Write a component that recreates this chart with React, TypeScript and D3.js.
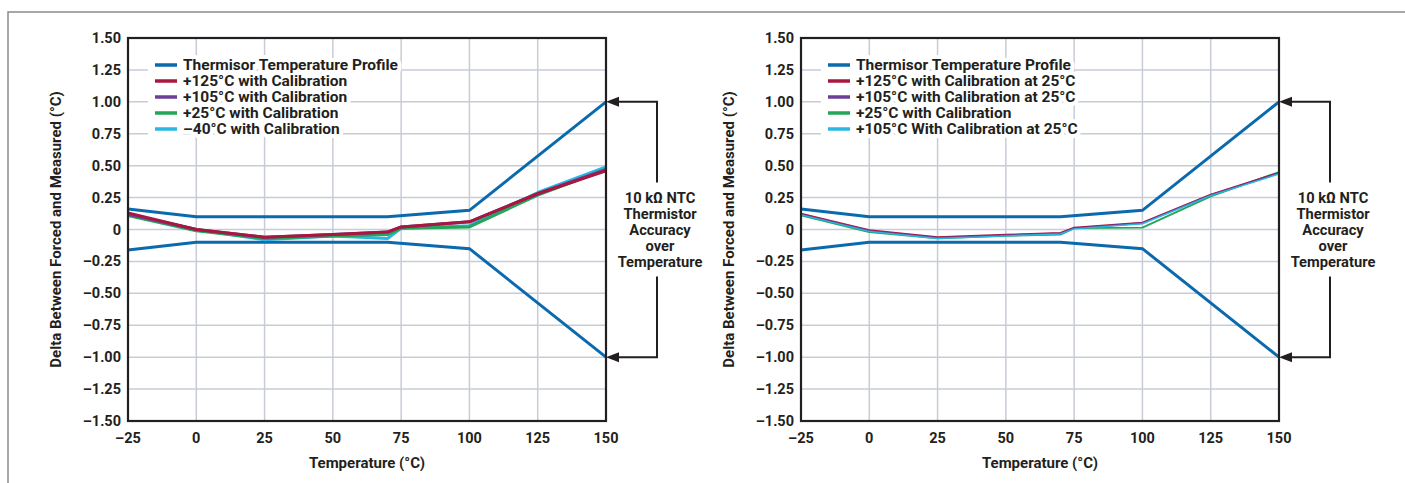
import React from 'react';
import * as d3 from 'd3';

// temperatures where the calibration curves were sampled
const temps = [-25, 0, 25, 50, 70, 75, 100, 125, 150];
// thermistor accuracy envelope
const profileTemps = [-25, 0, 70, 100, 150];
const profileUpper = [0.16, 0.10, 0.10, 0.15, 1.00];
const profileLower = [-0.16, -0.10, -0.10, -0.15, -1.00];

// left chart
const leftCal125 = [0.13, 0.00, -0.06, -0.04, -0.02, 0.02, 0.06, 0.28, 0.46];
const leftCal105 = [0.12, 0.00, -0.06, -0.04, -0.02, 0.02, 0.06, 0.28, 0.47];
const leftCal25 = [0.11, -0.01, -0.07, -0.05, -0.04, 0.01, 0.02, 0.27, 0.47];
const leftCalM40 = [0.12, 0.00, -0.08, -0.05, -0.07, 0.01, 0.03, 0.29, 0.49];

// right chart
const rightCal125 = [0.125, -0.005, -0.06, -0.04, -0.025, 0.015, 0.055, 0.275, 0.445];
const rightCal105 = [0.12, -0.01, -0.065, -0.045, -0.03, 0.01, 0.05, 0.27, 0.44];
const rightCal25 = [0.11, -0.02, -0.07, -0.05, -0.04, 0.01, 0.015, 0.26, 0.45];
const rightCal105b = [0.115, -0.015, -0.07, -0.05, -0.035, 0.005, 0.045, 0.265, 0.435];

const leftLabels = [
  'Thermisor Temperature Profile',
  '+125°C with Calibration',
  '+105°C with Calibration',
  '+25°C with Calibration',
  '–40°C with Calibration',
];
const rightLabels = [
  'Thermisor Temperature Profile',
  '+125°C with Calibration at 25°C',
  '+105°C with Calibration at 25°C',
  '+25°C with Calibration',
  '+105°C With Calibration at 25°C',
];

const xTicks = [-25, 0, 25, 50, 75, 100, 125, 150];
const yTicks = [1.5, 1.25, 1, 0.75, 0.5, 0.25, 0, -0.25, -0.5, -0.75, -1, -1.25, -1.5];
const noteLines = ['10 kΩ NTC', 'Thermistor', 'Accuracy', 'over', 'Temperature'];

const BLUE = '#0b69ad';
const RED = '#a8173d';
const PURPLE = '#6b3f98';
const GREEN = '#23a55a';
const CYAN = '#2ab7e3';
const INK = '#231f20';
const GRID = '#c7ccd8';
const FONT = 'Roboto, "DejaVu Sans", sans-serif';

const fmtY = (v: number) => (v === 0 ? '0' : (v < 0 ? '–' : '') + Math.abs(v).toFixed(2));
const fmtX = (v: number) => (v < 0 ? '–' : '') + Math.abs(v);

type Series = { values: number[]; color: string; width: number };

function Panel({ left, series, labels }: { left: number; series: Series[]; labels: string[] }) {
  const top = 38;
  const bottom = 421;
  const right = left + 478;
  const x = d3.scaleLinear().domain([-25, 150]).range([left, right]);
  const y = d3.scaleLinear().domain([-1.5, 1.5]).range([bottom, top]);

  const line = d3.line<[number, number]>().x(d => x(d[0])).y(d => y(d[1]));
  const profUp = line(profileTemps.map((t, i) => [t, profileUpper[i]]) as [number, number][]) || '';
  const profLo = line(profileTemps.map((t, i) => [t, profileLower[i]]) as [number, number][]) || '';

  const legendColors = [BLUE, RED, PURPLE, GREEN, CYAN];
  const lgX = left + 27;
  const lgY = top + 27;

  const bx = right + 51; // bracket x
  const y1 = y(1);
  const y2 = y(-1);
  const midY = (top + bottom) / 2;

  return (
    <g fontFamily={FONT} fontWeight={700} fill={INK}>
      {/* grid */}
      {xTicks.map(t => (
        <line key={'gx' + t} x1={x(t)} x2={x(t)} y1={top} y2={bottom} stroke={GRID} strokeWidth={1.5} />
      ))}
      {yTicks.map(t => (
        <line key={'gy' + t} x1={left} x2={right} y1={y(t)} y2={y(t)} stroke={GRID} strokeWidth={1.5} />
      ))}

      {/* legend: white halo first, then swatches and text */}
      <rect x={left + 20} y={top + 15} width={lgX + 28 - (left + 20)} height={4 * 16 + 22} fill="#fff" />
      {labels.map((lab, i) => (
        <text
          key={'h' + i}
          x={lgX + 28}
          y={lgY + i * 16}
          dy="0.35em"
          fontSize={15.5}
          fill="#fff"
          stroke="#fff"
          strokeWidth={8}
          strokeLinejoin="round"
        >
          {lab}
        </text>
      ))}
      {labels.map((lab, i) => (
        <g key={lab + i}>
          <line x1={lgX} x2={lgX + 22} y1={lgY + i * 16} y2={lgY + i * 16} stroke={legendColors[i]} strokeWidth={3.5} />
          <text x={lgX + 28} y={lgY + i * 16} dy="0.35em" fontSize={15.5}>
            {lab}
          </text>
        </g>
      ))}

      {/* envelope */}
      <path d={profUp} fill="none" stroke={BLUE} strokeWidth={3} />
      <path d={profLo} fill="none" stroke={BLUE} strokeWidth={3} />

      {/* calibration curves */}
      {series.map((s, i) => (
        <path
          key={'s' + i}
          d={line(temps.map((t, j) => [t, s.values[j]]) as [number, number][]) || ''}
          fill="none"
          stroke={s.color}
          strokeWidth={s.width}
          strokeLinejoin="round"
        />
      ))}

      {/* frame */}
      <rect x={left} y={top} width={right - left} height={bottom - top} fill="none" stroke={INK} strokeWidth={2.2} />

      {/* tick labels */}
      {yTicks.map(t => (
        <text key={'ty' + t} x={left - 7} y={y(t)} dy="0.35em" textAnchor="end" fontSize={14.5}>
          {fmtY(t)}
        </text>
      ))}
      {xTicks.map(t => (
        <text key={'tx' + t} x={x(t)} y={bottom + 17} dy="0.35em" textAnchor="middle" fontSize={14.5}>
          {fmtX(t)}
        </text>
      ))}
      <text x={(left + right) / 2} y={bottom + 42} dy="0.35em" textAnchor="middle" fontSize={15}>
        Temperature (°C)
      </text>
      <text
        transform={`translate(${left - 72},${midY}) rotate(-90)`}
        textAnchor="middle"
        dy="0.35em"
        fontSize={15}
      >
        Delta Between Forced and Measured (°C)
      </text>

      {/* accuracy bracket */}
      <path
        d={`M${right + 13},${y1}H${bx}V${midY - 47}M${bx},${midY + 47}V${y2}H${right + 13}`}
        fill="none"
        stroke={INK}
        strokeWidth={2}
      />
      <path d={`M${right},${y1}l13,-5v10z`} fill={INK} />
      <path d={`M${right},${y2}l13,-5v10z`} fill={INK} />
      {noteLines.map((s, i) => (
        <text key={s} x={bx + 3} y={midY - 32 + i * 16} dy="0.35em" textAnchor="middle" fontSize={14.7}>
          {s}
        </text>
      ))}
    </g>
  );
}

export default function App() {
  const leftSeries: Series[] = [
    { values: leftCalM40, color: CYAN, width: 3 },
    { values: leftCal25, color: GREEN, width: 3 },
    { values: leftCal105, color: PURPLE, width: 3 },
    { values: leftCal125, color: RED, width: 3 },
  ];
  const rightSeries: Series[] = [
    { values: rightCal25, color: GREEN, width: 1.8 },
    { values: rightCal125, color: RED, width: 1.6 },
    { values: rightCal105, color: PURPLE, width: 1.6 },
    { values: rightCal105b, color: CYAN, width: 1.4 },
  ];
  return (
    <svg
      width={1405}
      height={483}
      style={{ position: 'absolute', left: 0, top: 0, background: '#fff' }}
    >
      <rect x={0} y={0} width={1405} height={483} fill="#fff" />
      <path d="M8,483V12H1405" fill="none" stroke="#8a8a8a" strokeWidth={1.5} />
      <Panel left={128} series={leftSeries} labels={leftLabels} />
      <Panel left={801} series={rightSeries} labels={rightLabels} />
    </svg>
  );
}
